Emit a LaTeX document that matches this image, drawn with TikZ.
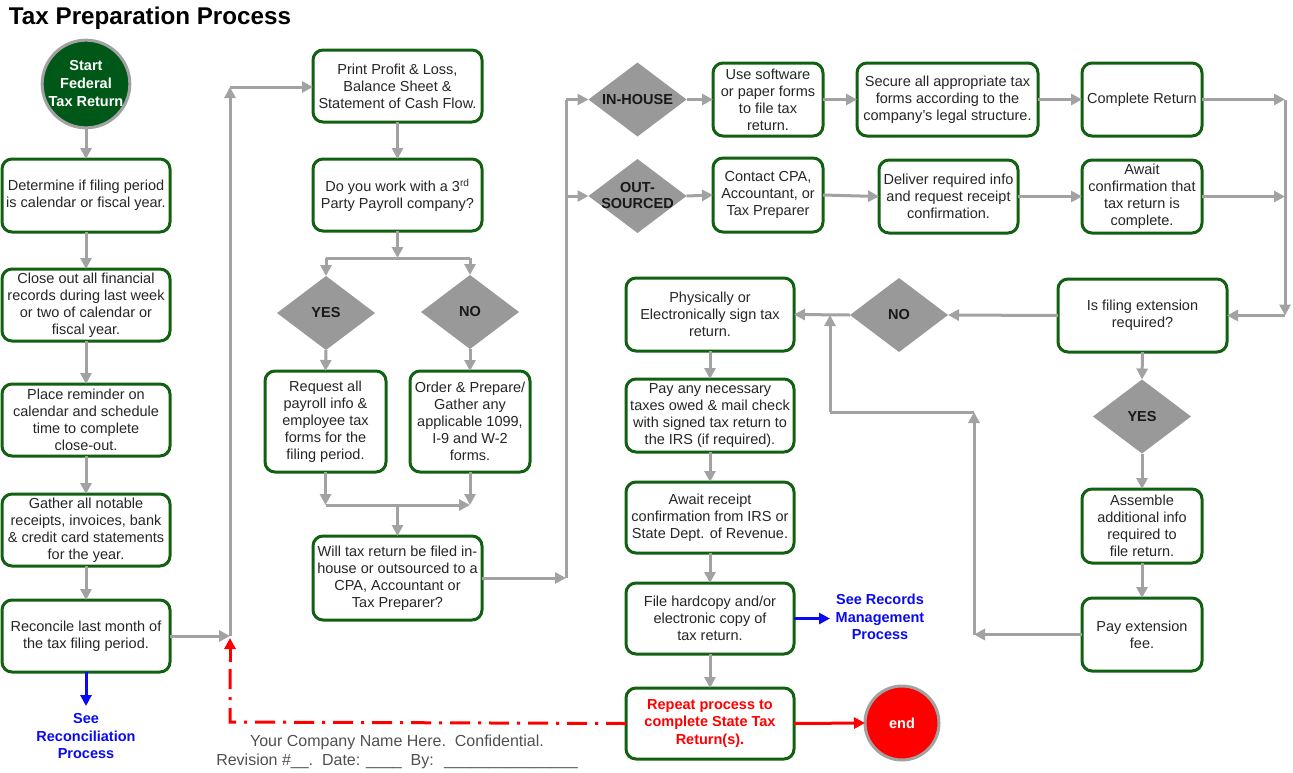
\documentclass[tikz,border=0pt]{standalone}
\usepackage{fontspec}
\setmainfont{Liberation Sans}
\usetikzlibrary{shapes.geometric,arrows.meta}
\definecolor{bgreen}{RGB}{18,96,18}
\definecolor{sgreen}{RGB}{0,88,24}
\definecolor{agray}{RGB}{162,162,162}
\definecolor{dgray}{RGB}{153,153,153}
\definecolor{lblue}{RGB}{10,10,240}
\definecolor{lred}{RGB}{255,0,0}
\definecolor{ftext}{RGB}{80,80,80}
\begin{document}
\begin{tikzpicture}[x=1pt,y=-1pt,
 every node/.style={inner sep=0pt, outer sep=0pt},
 box/.style={draw=bgreen, line width=3pt, rounded corners=10pt, fill=white, align=center,
   font=\fontsize{14.5}{17}\selectfont, text=black!85},
 dia/.style={diamond, fill=dgray, minimum width=98pt, minimum height=74pt},
 dlabel/.style={font=\fontsize{14.5}{16}\selectfont\bfseries, align=center, text=black!90},
 arr/.style={draw=agray, line width=3pt, -{Triangle[length=11pt,width=11pt]}},
 ln/.style={draw=agray, line width=3pt},
 barr/.style={draw=lblue, line width=3pt, -{Triangle[length=11pt,width=11pt]}},
 rarr/.style={draw=lred, line width=3pt, -{Triangle[length=11pt,width=11pt]}},
 rdash/.style={draw=lred, line width=3pt, dash pattern=on 20pt off 8pt on 3pt off 8pt},
 btext/.style={font=\fontsize{14.5}{17.5}\selectfont\bfseries, align=center, text=lblue},
 ftxt/.style={font=\fontsize{16}{18}\selectfont, text=ftext}]
\useasboundingbox (0,0) rectangle (1293,772);

% title
\node[anchor=west, font=\fontsize{24.2}{28}\selectfont\bfseries] (title) at (9,18) {Tax Preparation Process};

% start
\node[circle, fill=sgreen, draw=agray, line width=3pt, minimum size=84pt, align=center, text=white,
  font=\fontsize{14.5}{18}\selectfont\bfseries] (start) at (86,84) {Start\\Federal\\Tax Return};

% left column
\node[box, minimum width=168pt, minimum height=73pt] (B1) at (86,195.5) {Determine if filing period\\is calendar or fiscal year.};
\node[box, minimum width=168pt, minimum height=72pt] (B2) at (86,305) {Close out all financial\\records during last week\\or two of calendar or\\fiscal year.};
\node[box, minimum width=168pt, minimum height=72pt] (B3) at (86,420) {Place reminder on\\calendar and schedule\\time to complete\\close-out.};
\node[box, minimum width=168pt, minimum height=72pt] (B4) at (86,530) {Gather all notable\\receipts, invoices, bank\\\& credit card statements\\for the year.};
\node[box, minimum width=168pt, minimum height=72pt] (B5) at (86,636) {Reconcile last month of\\the tax filing period.};
\node[btext] (seerec) at (86,736) {See\\Reconciliation\\Process};

% middle column
\node[box, minimum width=169pt, minimum height=72pt] (P1) at (397.5,86) {Print Profit \& Loss,\\Balance Sheet \&\\Statement of Cash Flow.};
\node[box, minimum width=169pt, minimum height=72pt] (P2) at (397.5,195) {Do you work with a 3\textsuperscript{rd}\\Party Payroll company?};
\node[dia] (Y1) at (326,313) {};
\node[dlabel] (Y1t) at (Y1) {YES};
\node[dia] (N1) at (470,312) {};
\node[dlabel] (N1t) at (N1) {NO};
\node[box, minimum width=121pt, minimum height=101pt] (Req) at (325.5,421.5) {Request all\\payroll info \&\\employee tax\\forms for the\\filing period.};
\node[box, minimum width=120pt, minimum height=101pt] (Ord) at (470,421.5) {Order \& Prepare/\\Gather any\\applicable 1099,\\I-9 and W-2\\forms.};
\node[box, minimum width=169pt, minimum height=84pt] (Will) at (397.5,578) {Will tax return be filed in-\\house or outsourced to a\\CPA, Accountant or\\Tax Preparer?};

% footer
\node[ftxt] (foot1) at (397,742) {Your Company Name Here.\ \ Confidential.};
\node[ftxt] (foot2) at (397,761) {Revision \#\_\_.\ \ Date: \_\_\_\_\ \ By: \ \_\_\_\_\_\_\_\_\_\_\_\_\_\_\_};

% top right rows
\node[dia] (IH) at (637.5,99.5) {};
\node[dlabel] (IHt) at (IH) {IN-HOUSE};
\node[dia] (OS) at (637.5,196) {};
\node[dlabel] (OSt) at (OS) {OUT-\\SOURCED};
\node[box, minimum width=110pt, minimum height=73pt] (Use) at (768,99.5) {Use software\\or paper forms\\to file tax\\return.};
\node[box, minimum width=110pt, minimum height=74pt] (Con) at (768,195) {Contact CPA,\\Accountant, or\\Tax Preparer};
\node[box, minimum width=181pt, minimum height=73pt] (Sec) at (947.5,99.5) {Secure all appropriate tax\\forms according to the\\company’s legal structure.};
\node[box, minimum width=139pt, minimum height=73pt] (Del) at (948.5,196.5) {Deliver required info\\and request receipt\\confirmation.};
\node[box, minimum width=120pt, minimum height=73pt] (Comp) at (1142,99.5) {Complete Return};
\node[box, minimum width=120pt, minimum height=73pt] (AwC) at (1142,196.5) {Await\\confirmation that\\tax return is\\complete.};

% right part
\node[box, minimum width=169pt, minimum height=73pt] (IsF) at (1142.5,315.5) {Is filing extension\\required?};
\node[dia] (N2) at (899,315) {};
\node[dlabel] (N2t) at (N2) {NO};
\node[dia] (Y2) at (1142,416.5) {};
\node[dlabel] (Y2t) at (Y2) {YES};
\node[box, minimum width=120pt, minimum height=74pt] (Asm) at (1142,526) {Assemble\\additional info\\required to\\file return.};
\node[box, minimum width=120pt, minimum height=73pt] (PExt) at (1142,634.5) {Pay extension\\fee.};

% bottom middle column
\node[box, minimum width=168pt, minimum height=73pt] (Phys) at (710,314.5) {Physically or\\Electronically sign tax\\return.};
\node[box, minimum width=168pt, minimum height=73pt] (PayA) at (710,415.5) {Pay any necessary\\taxes owed \& mail check\\with signed tax return to\\the IRS (if required).};
\node[box, minimum width=168pt, minimum height=71pt] (AwR) at (710,517.5) {Await receipt\\confirmation from IRS or\\State Dept. of Revenue.};
\node[box, minimum width=168pt, minimum height=71pt] (File) at (710,618.5) {File hardcopy and/or\\electronic copy of\\tax return.};
\node[box, minimum width=168pt, minimum height=71pt, text=lred, font=\fontsize{14.5}{17.5}\selectfont\bfseries] (Rep) at (710,723.5) {Repeat process to\\complete State Tax\\Return(s).};
\node[btext] (seerm) at (880,617) {See Records\\Management\\Process};
\node[circle, fill=lred, draw=agray, line width=3pt, minimum size=74pt, text=white,
  font=\fontsize{14.5}{17}\selectfont\bfseries] (end) at (902,723) {end};

% coordinates
\coordinate (j1) at (230,636);
\coordinate (c1) at (230,87);
\coordinate (s1) at (397.5,258);
\coordinate (sy) at (326,258);
\coordinate (sn) at (470,258);
\coordinate (m1) at (325.5,505);
\coordinate (m2) at (470,505);
\coordinate (m3) at (397.5,505);
\coordinate (w1) at (566,578);
\coordinate (w2) at (566,99.5);
\coordinate (w3) at (566,196);
\coordinate (r1) at (1285,99.5);
\coordinate (r2) at (1285,196.5);
\coordinate (r3) at (1285,315.5);
\coordinate (e1) at (974,634.5);
\coordinate (e2) at (974,412);
\coordinate (e3) at (830,412);
\coordinate (e4) at (830,315);
\coordinate (lb) at (86,706);
\coordinate (bb) at (830,618.5);
\coordinate (d1) at (230,722);
\coordinate (d2) at (230,638);

% left column connectors
\draw[arr] (start) -- (B1);
\draw[arr] (B1) -- (B2);
\draw[arr] (B2) -- (B3);
\draw[arr] (B3) -- (B4);
\draw[arr] (B4) -- (B5);
\draw[barr] (B5) -- (lb);
\draw[arr] (B5.east) -- (j1);
\draw[arr] (j1) -- (c1);
\draw[arr] (c1) -- (c1 -| P1.west);

% middle column connectors
\draw[arr] (P1) -- (P2);
\draw[arr] (P2) -- (s1);
\draw[ln] (sy) -- (sn);
\draw[arr] (sy) -- (Y1.north);
\draw[arr] (sn) -- (N1.north);
\draw[arr] (Y1.south) -- (Req.north);
\draw[arr] (N1.south) -- (Ord.north);
\draw[arr] (Req.south) -- (m1);
\draw[arr] (Ord.south) -- (m2);
\draw[arr] (m1) -- (m2);
\draw[arr] (m3) -- (Will.north);
\draw[arr] (Will.east) -- (w1);
\draw[ln] (w1) -- (w2);
\draw[arr] (w2) -- (IH.west);
\draw[arr] (w3) -- (OS.west);

% top rows
\draw[arr] (IH.east) -- (Use.west);
\draw[arr] (OS.east) -- (Con.west);
\draw[arr] (Use.east) -- (Sec.west);
\draw[arr] (Sec.east) -- (Comp.west);
\draw[arr] (Con.east) -- (Del.west);
\draw[arr] (Del.east) -- (AwC.west);
\draw[arr] (Comp.east) -- (r1);
\draw[arr] (AwC.east) -- (r2);
\draw[arr] (r1) -- (r3);
\draw[arr] (r3) -- (IsF.east);

% right part
\draw[arr] (IsF.west) -- (N2.east);
\draw[arr] (N2.west) -- (Phys.east);
\draw[arr] (IsF.south) -- (Y2.north);
\draw[arr] (Y2.south) -- (Asm.north);
\draw[arr] (Asm) -- (PExt);
\draw[arr] (PExt.west) -- (e1);
\draw[arr] (e1) -- (e2);
\draw[ln] (e2) -- (e3);
\draw[arr] (e3) -- (e4);

% bottom middle column
\draw[arr] (Phys) -- (PayA);
\draw[arr] (PayA) -- (AwR);
\draw[arr] (AwR) -- (File);
\draw[arr] (File) -- (Rep);
\draw[barr] (File.east) -- (bb);
\draw[rarr] (Rep.east) -- (end.west);
\draw[rdash] (Rep.west) -- (d1) -- (230,660);
\draw[rarr] (230,662) -- (d2);
\end{tikzpicture}
\end{document}
